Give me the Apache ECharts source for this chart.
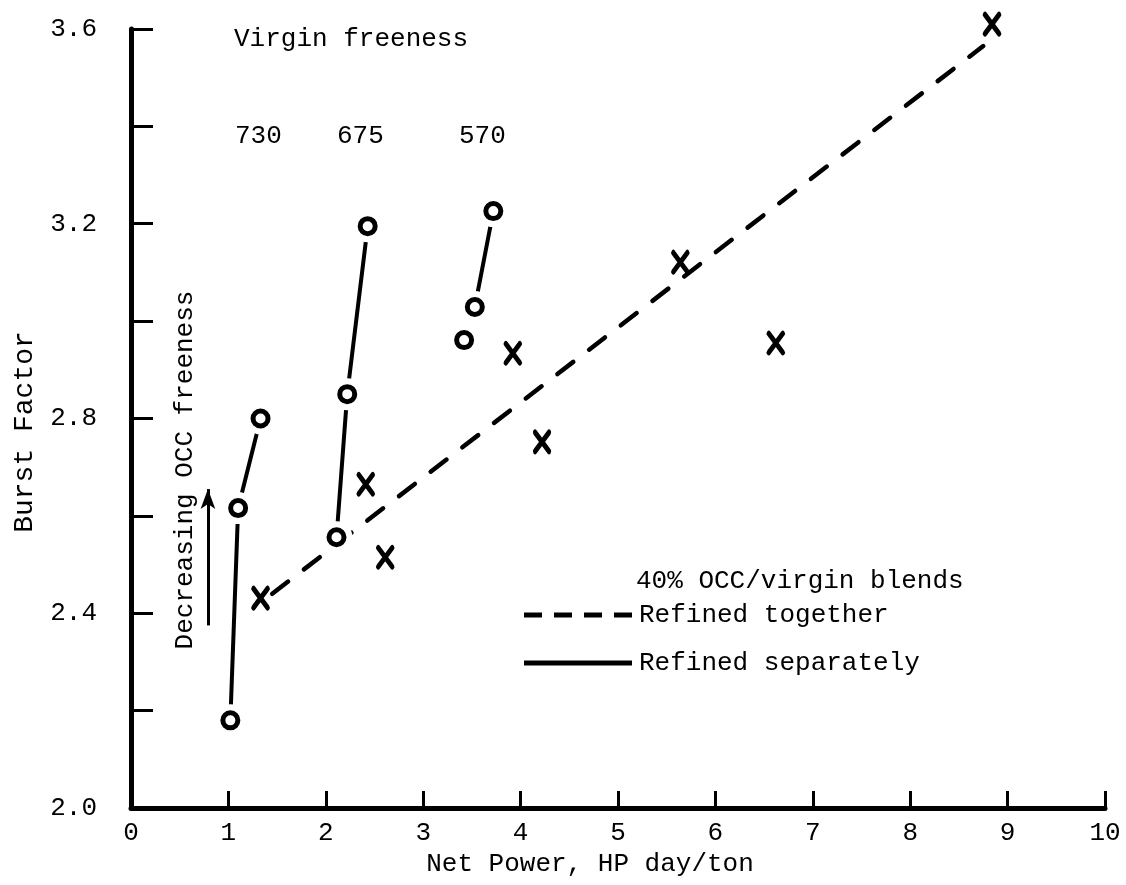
<!DOCTYPE html>
<html>
<head>
<meta charset="utf-8">
<script src="https://cdn.jsdelivr.net/npm/echarts@6/dist/echarts.min.js"></script>
<style>
  html, body { margin: 0; padding: 0; background: #fff; }
  #container { width: 1126px; height: 885px; }
</style>
</head>
<body>
<div id="container"></div>
<script>
// values
var sepX730 = [1.02, 1.10, 1.33];
var sepY730 = [2.18, 2.616, 2.80];
var sepX675 = [2.11, 2.22, 2.43];
var sepY675 = [2.556, 2.85, 3.195];
var sepX570 = [3.42, 3.53, 3.72];
var sepY570 = [2.961, 3.029, 3.226];

var togetherX = [1.33, 2.41, 2.61, 3.92, 4.22, 5.64, 6.62, 8.84];
var togetherY = [2.431, 2.665, 2.515, 2.934, 2.752, 3.121, 2.955, 3.61];

// dashed trend line ends
var fitX = [1.45, 8.75];
var fitY = [2.44, 3.565];

var xTicks = [0, 1, 2, 3, 4, 5, 6, 7, 8, 9, 10];

function pairs(xs, ys) {
  return xs.map(function (x, i) { return [x, ys[i]]; });
}

var FONT = '"Liberation Mono", "DejaVu Sans Mono", monospace';
var allCircles = pairs(sepX730, sepY730).concat(pairs(sepX675, sepY675), pairs(sepX570, sepY570));

var dom = document.getElementById('container');
var myChart = echarts.init(dom, null, { renderer: 'canvas' });

var solidLine = { color: '#000', width: 4, type: 'solid', cap: 'round' };

var option = {
  animation: false,
  backgroundColor: '#fff',
  grid: { left: 131, right: 21, top: 29, bottom: 77, containLabel: false },
  legend: {
    data: [
      { name: 'Refined together', icon: 'path://M0,0h18v5h-18zM30,0h18v5h-18zM60,0h18v5h-18zM90,0h18v5h-18z' },
      { name: 'Refined separately', icon: 'path://M0,0h108v5h-108z' }
    ],
    orient: 'vertical',
    left: 519,
    top: 597,
    itemWidth: 112,
    itemHeight: 5,
    itemGap: 22,
    textStyle: { fontFamily: FONT, fontSize: 26, color: '#000' },
    itemStyle: { color: '#000' },
    selectedMode: false
  },
  xAxis: {
    type: 'value',
    min: 0,
    max: 10,
    interval: 1,
    name: 'Net Power, HP day/ton',
    nameLocation: 'middle',
    nameGap: 40,
    nameTextStyle: { fontFamily: FONT, fontSize: 26, color: '#000', padding: [0, 56, 0, 0] },
    axisLine: { show: true, onZero: false, lineStyle: { color: '#000', width: 5 } },
    axisTick: { show: true, inside: true, length: 17, lineStyle: { color: '#000', width: 3 } },
    axisLabel: {
      fontFamily: FONT, fontSize: 26, color: '#000', margin: 12,
      formatter: function (v) { return xTicks.indexOf(v) >= 0 ? String(v) : ''; }
    },
    splitLine: { show: false }
  },
  yAxis: {
    type: 'value',
    min: 2.0,
    max: 3.6,
    interval: 0.4,
    axisLine: { show: true, onZero: false, lineStyle: { color: '#000', width: 5 } },
    axisTick: { show: true, inside: true, length: 22, lineStyle: { color: '#000', width: 3 } },
    minorTick: { show: true, splitNumber: 2, length: 22, lineStyle: { color: '#000', width: 3 } },
    axisLabel: {
      fontFamily: FONT, fontSize: 26, color: '#000', margin: 34,
      formatter: function (v) { return v.toFixed(1); }
    },
    splitLine: { show: false },
    minorSplitLine: { show: false }
  },
  graphic: [
    { type: 'text', left: 234, top: 26, style: { text: 'Virgin freeness', font: '26px ' + FONT, fill: '#000' } },
    { type: 'text', left: 235, top: 123, style: { text: '730', font: '26px ' + FONT, fill: '#000' } },
    { type: 'text', left: 337, top: 123, style: { text: '675', font: '26px ' + FONT, fill: '#000' } },
    { type: 'text', left: 459, top: 123, style: { text: '570', font: '26px ' + FONT, fill: '#000' } },
    { type: 'text', left: 636, top: 568, style: { text: '40% OCC/virgin blends', font: '26px ' + FONT, fill: '#000' } },
    {
      type: 'text', x: 25, y: 432, rotation: Math.PI / 2,
      style: { text: 'Burst Factor', font: '28px ' + FONT, fill: '#000', align: 'center', verticalAlign: 'middle' }
    },
    {
      type: 'text', x: 185, y: 470, rotation: Math.PI / 2,
      style: { text: 'Decreasing OCC freeness', font: '26px ' + FONT, fill: '#000', align: 'center', verticalAlign: 'middle' }
    }
  ],
  series: [
    {
      name: 'Refined together',
      type: 'line',
      data: pairs(fitX, fitY),
      symbol: 'none',
      z: 2,
      lineStyle: { color: '#000', width: 4.5, type: [20, 20], cap: 'round' },
      itemStyle: { color: '#000' }
    },
    {
      name: 'Refined separately',
      type: 'line',
      data: pairs(sepX730, sepY730),
      symbol: 'none',
      z: 2,
      lineStyle: solidLine,
      itemStyle: { color: '#000' },
      markLine: {
        silent: true,
        symbol: ['none', 'arrow'],
        symbolSize: [11, 20],
        label: { show: false },
        lineStyle: { color: '#000', width: 3, type: 'solid' },
        data: [[{ coord: [0.79, 2.375] }, { coord: [0.79, 2.655] }]]
      }
    },
    {
      name: 'Refined separately',
      type: 'line',
      data: pairs(sepX675, sepY675),
      symbol: 'none',
      z: 2,
      lineStyle: solidLine,
      itemStyle: { color: '#000' }
    },
    {
      name: 'Refined separately',
      type: 'line',
      data: pairs(sepX570, sepY570).slice(1),
      symbol: 'none',
      z: 2,
      lineStyle: solidLine,
      itemStyle: { color: '#000' }
    },
    // white halo so lines stop short of the circles
    {
      name: 'halo',
      type: 'scatter',
      data: allCircles,
      symbol: 'circle',
      symbolSize: 32,
      z: 3,
      itemStyle: { color: '#fff', opacity: 1 }
    },
    {
      name: 'circles',
      type: 'scatter',
      data: allCircles,
      symbol: 'circle',
      symbolSize: 15,
      z: 4,
      itemStyle: { color: '#fff', borderColor: '#000', borderWidth: 5, opacity: 1 }
    },
    {
      name: 'crosses',
      type: 'scatter',
      data: pairs(togetherX, togetherY),
      clip: false,
      symbol: 'path://M0,0L10,13M10,0L0,13',
      symbolSize: [14, 19],
      symbolKeepAspect: false,
      z: 4,
      itemStyle: { color: '#000', borderColor: '#000', borderWidth: 5, borderCap: 'round', opacity: 1 }
    }
  ]
};

myChart.setOption(option);

window.addEventListener('resize', function () {
  myChart.resize();
});
</script>
</body>
</html>
